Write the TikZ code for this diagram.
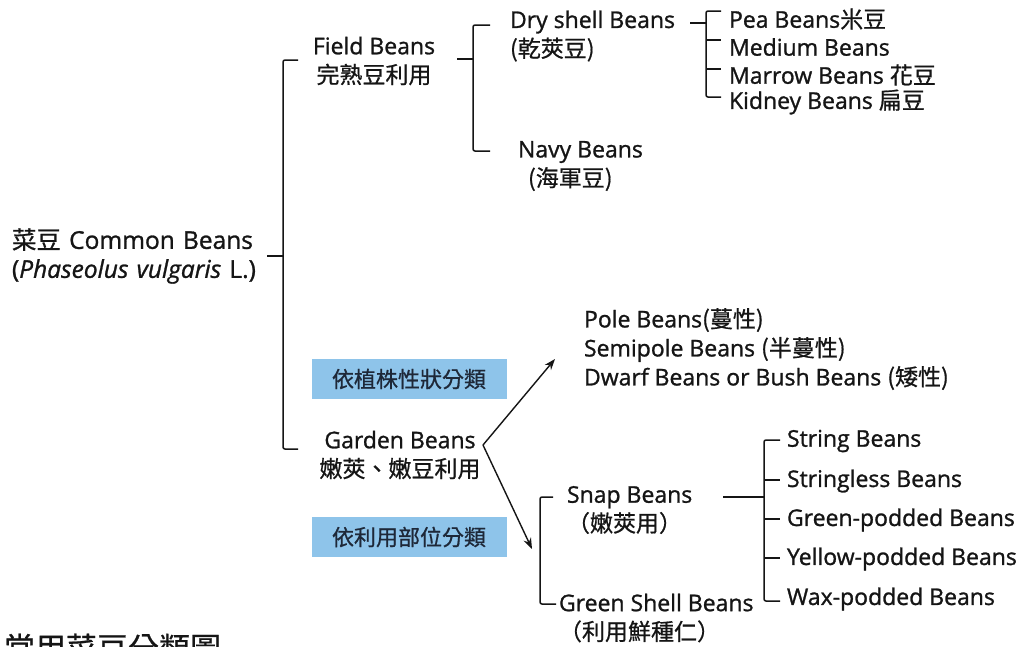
\documentclass[tikz,border=0pt]{standalone}
\usepackage{fontspec}
\setmainfont{Open Sans}[UprightFeatures={FakeBold=1.1}, ItalicFeatures={FakeBold=1.1}]
\newfontfamily\cjk{Noto Sans CJK TC}[UprightFeatures={FakeBold=0.7}]
\usetikzlibrary{arrows.meta}
\definecolor{ink}{HTML}{151515}
\definecolor{boxblue}{HTML}{8EC4EA}
\definecolor{boxtext}{HTML}{1E2838}
\tikzset{
  every node/.style={inner sep=0pt, outer sep=0pt, text=ink, font=\fontsize{23}{29}\selectfont},
  lbl/.style={anchor=west, align=left},
  ctr/.style={align=center},
  brk/.style={draw=ink, line width=1.5pt, rounded corners=2pt},
  arr/.style={draw=ink, line width=1.4pt, -{Stealth[length=11pt,width=8pt]}},
  tagbox/.style={fill=boxblue, minimum width=195pt, minimum height=40pt, text=boxtext, font=\cjk\fontsize{22}{26}\selectfont}
}
\begin{document}
\begin{tikzpicture}[x=1pt,y=-1pt]
\clip (0,0) rectangle (1024,646);
\fill[white] (0,0) rectangle (1024,646);

% ---------- nodes ----------
\node[lbl, text width=255pt, font=\fontsize{24.5}{29}\selectfont] (root) at (12,256) {{\cjk 菜豆} Common Beans\\(\textit{Phaseolus vulgaris} L.)};
\node[ctr] (field) at (374,61) {Field Beans\\{\cjk 完熟豆利用}};
\node[lbl] (dry) at (510,36) {Dry shell Beans\\{\cjk (乾莢豆)}};
\node[lbl] (navy) at (518,166) {Navy Beans\\\hspace{10pt}{\cjk (海軍豆)}};
\node[lbl] (pea) at (729,19) {Pea Beans{\cjk 米豆}};
\node[lbl] (medium) at (729,47) {Medium Beans};
\node[lbl] (marrow) at (729,75) {Marrow Beans {\cjk 花豆}};
\node[lbl] (kidney) at (729,102) {Kidney Beans {\cjk 扁豆}};

\node[tagbox] (tag1) at (409,379) {依植株性狀分類};
\node[tagbox] (tag2) at (409,537) {依利用部位分類};

\node[ctr] (garden) at (400,455) {Garden Beans\\{\cjk 嫩莢、嫩豆利用}};
\node[lbl] (habit) at (584,349) {Pole Beans{\cjk (蔓性)}\\Semipole Beans {\cjk (半蔓性)}\\Dwarf Beans or Bush Beans {\cjk (矮性)}};

\node[lbl] (snap) at (567,510) {Snap Beans\\{\cjk （嫩莢用）}};
\node[lbl] (shell) at (559,618) {Green Shell Beans\\{\cjk （利用鮮種仁）}};

\node[lbl] (s1) at (787,441) {String Beans};
\node[lbl] (s2) at (787,481) {Stringless Beans};
\node[lbl] (s3) at (787,520) {Green-podded Beans};
\node[lbl] (s4) at (787,559) {Yellow-podded Beans};
\node[lbl] (s5) at (787,599) {Wax-podded Beans};

\node[anchor=west, font=\cjk\fontsize{31}{36}\selectfont] (title) at (4,648) {常用菜豆分類圖};

% ---------- bracket points ----------
\coordinate (rj) at (283,256);
\coordinate (rt) at (283,60);
\coordinate (rb) at (283,449);
\coordinate (rt1) at (298,60);
\coordinate (rb1) at (298,449);

\coordinate (fs) at (457,59);
\coordinate (fj) at (473,59);
\coordinate (ft) at (473,25);
\coordinate (fb) at (473,151);
\coordinate (ft1) at (490,25);
\coordinate (fb1) at (490,151);

\coordinate (ds) at (690,23);
\coordinate (dj) at (706,23);
\coordinate (dt) at (706,11);
\coordinate (db) at (706,97);
\coordinate (d1) at (721,11);
\coordinate (d2) at (721,40);
\coordinate (d3) at (721,69);
\coordinate (d4) at (721,97);

\coordinate (ga) at (483,445);
\coordinate (gup) at (555,359);
\coordinate (gdn) at (532,549);

\coordinate (pt) at (540,497);
\coordinate (pb) at (540,604);
\coordinate (pt1) at (553,497);
\coordinate (pb1) at (556,604);

\coordinate (ss) at (723,497);
\coordinate (sj) at (764,497);
\coordinate (st) at (764,440);
\coordinate (sb) at (764,601);
\coordinate (k1) at (780,440);
\coordinate (k2) at (780,480);
\coordinate (k3) at (780,519);
\coordinate (k4) at (780,558);
\coordinate (k5) at (780,601);

% ---------- connectors ----------
\draw[brk] (root.east) -- (rj);
\draw[brk] (rt1) -- (rt) -- (rb) -- (rb1);

\draw[brk] (fs) -- (fj);
\draw[brk] (ft1) -- (ft) -- (fb) -- (fb1);

\draw[brk] (ds) -- (dj);
\draw[brk] (d1) -- (dt) -- (db) -- (d4);
\draw[brk] (dj |- d2) -- (d2);
\draw[brk] (dj |- d3) -- (d3);

\draw[arr] (ga) -- (gup);
\draw[arr] (ga) -- (gdn);

\draw[brk] (pt1) -- (pt) -- (pb) -- (pb1);

\draw[brk] (ss) -- (sj);
\draw[brk] (k1) -- (st) -- (sb) -- (k5);
\draw[brk] (st |- k2) -- (k2);
\draw[brk] (st |- k3) -- (k3);
\draw[brk] (st |- k4) -- (k4);
\end{tikzpicture}
\end{document}
